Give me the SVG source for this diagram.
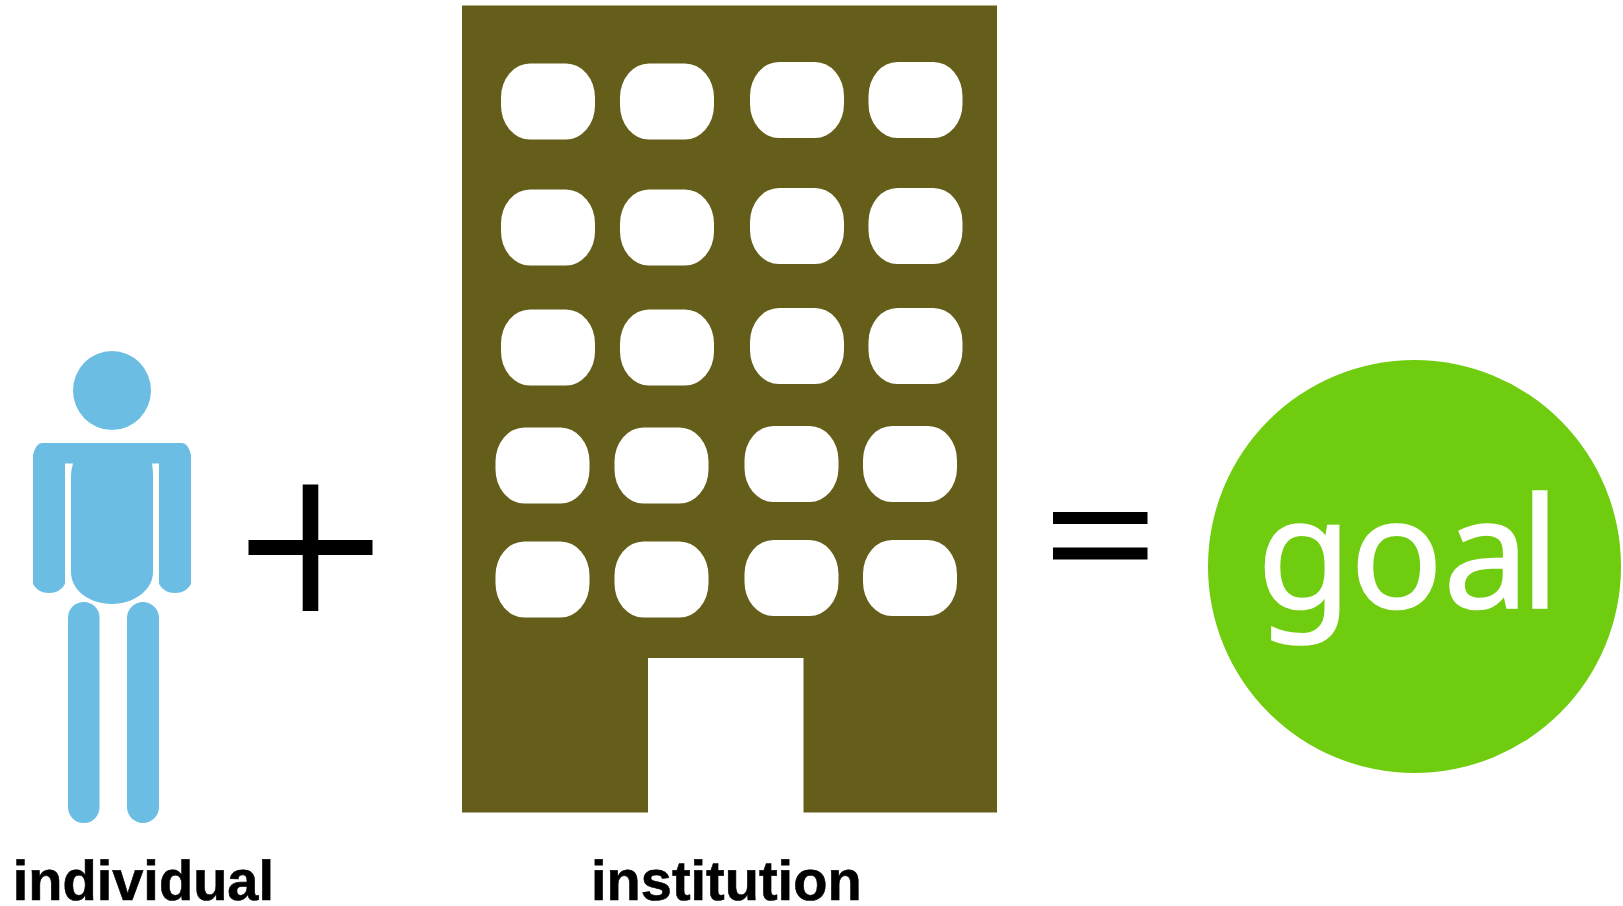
<svg xmlns="http://www.w3.org/2000/svg" width="1623" height="906" viewBox="0 0 1623 906">
<style>
.p{fill:#6bbde4}
.b{fill:#655e1a}
.w{fill:#fff}
.k{fill:#000}
.t{font-family:"Liberation Sans",Arial,sans-serif;font-weight:700;font-size:56px;fill:#000;stroke:#000;stroke-width:.6px;text-rendering:geometricPrecision}
.g{font-family:"Noto Sans",sans-serif;font-size:154px;fill:#fff;stroke:#fff;stroke-width:1.5px;text-rendering:geometricPrecision}
</style>
<defs><rect id="win" class="w" width="94" height="76" rx="29" ry="34"/></defs>
<rect width="1623" height="906" fill="#fff"/>
<g id="individual">
<ellipse class="p" cx="112" cy="390.500" rx="39" ry="39.500"/>
<path class="p" d="M42 443H182Q188 443 191 455V584Q186 593 175 593Q164 593 159 584V463.500H152Q153 470 153 476V572C153 590 134 604 112 604C89 604 71 590 71 572V476Q71 470 73 463.500H65V584Q60 593 49 593Q38 593 33 584V455Q36 443 42 443Z"/>
<rect class="p" x="68" y="602" width="31.500" height="221" rx="15.700"/>
<rect class="p" x="127" y="602" width="32" height="221" rx="16"/>
<text class="t" x="12.700" y="900">individual</text>
</g>
<g id="plus">
<rect class="k" x="302.700" y="484.500" width="15.600" height="126.500"/>
<rect class="k" x="248.500" y="540" width="124" height="15"/>
</g>
<g id="institution">
<rect class="b" x="462" y="5.500" width="535" height="807"/>
<rect class="w" x="648" y="658" width="155.500" height="155"/>
<use href="#win" x="501" y="63.500"/><use href="#win" x="620" y="63.500"/><use href="#win" x="750" y="62"/><use href="#win" x="868.500" y="62"/>
<use href="#win" x="501" y="189.500"/><use href="#win" x="620" y="189.500"/><use href="#win" x="750" y="188"/><use href="#win" x="868.500" y="188"/>
<use href="#win" x="501" y="309.500"/><use href="#win" x="620" y="309.500"/><use href="#win" x="750" y="308"/><use href="#win" x="868.500" y="308"/>
<use href="#win" x="495.500" y="427.500"/><use href="#win" x="614.500" y="427.500"/><use href="#win" x="744.500" y="426"/><use href="#win" x="863" y="426"/>
<use href="#win" x="495.500" y="541.500"/><use href="#win" x="614.500" y="541.500"/><use href="#win" x="744.500" y="540"/><use href="#win" x="863" y="540"/>
<text class="t" x="591" y="900">institution</text>
</g>
<g id="equals">
<rect class="k" x="1053" y="512" width="94.500" height="12"/>
<rect class="k" x="1053" y="547.500" width="94.500" height="12"/>
</g>
<g id="goal">
<ellipse cx="1414.500" cy="566.500" rx="206.500" ry="206.500" fill="#6fcc0f"/>
<text class="g" x="1257 1350 1443 1520" y="608">goal</text>
</g>
<g id="connectors"></g>
</svg>
